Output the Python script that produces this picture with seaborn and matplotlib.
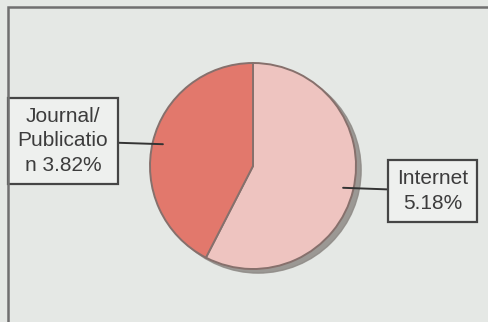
import numpy as np
import matplotlib
matplotlib.use("Agg")
import matplotlib.pyplot as plt
import matplotlib.patches as mpatches
import seaborn as sns

# Data
categories = ["Internet", "Journal/\nPublicatio\nn"]
values = [5.18, 3.82]
value_labels = ["5.18%", "3.82%"]

sns.set_theme(style="white")
plt.rcParams["font.family"] = ["Liberation Sans", "DejaVu Sans"]

colors = ["#eec4c0", "#e2786c"]
edge = "#86706c"
bg = "#e5e8e5"

W, H = 488, 322
fig = plt.figure(figsize=(W / 100, H / 100), dpi=100, facecolor=bg)

# outer frame
frame = mpatches.Rectangle((8 / W, -0.1), 1.2, 1 - 7 / H + 0.1, transform=fig.transFigure,
                           fill=False, edgecolor="#707070", lw=1.8)
fig.patches.append(frame)

cx, cy, r = 253, 166, 103
ax = fig.add_axes([(cx - r) / W, (H - cy - r) / H, 2 * r / W, 2 * r / H])

# shadow
shadow = mpatches.Circle((0.05, -0.04), 1.0, color="#8e8a86", zorder=0, clip_on=False, alpha=0.85)
ax.add_patch(shadow)

wedges, _ = ax.pie(values, colors=colors, startangle=90, counterclock=False, radius=1.0,
                   wedgeprops=dict(edgecolor=edge, linewidth=1.4))
for w in wedges:
    w.set_clip_on(False)
    w.set_zorder(2)
ax.set_xlim(-1, 1)
ax.set_ylim(-1, 1)
ax.axis("off")

box = dict(boxstyle="square,pad=0.45", facecolor="#eef0ee", edgecolor="#454545", lw=1.6)
text_pos = [(432.5 / W, 1 - 191 / H), (63 / W, 1 - 141 / H)]
for w, cat, lab, pos in zip(wedges, categories, value_labels, text_pos):
    ang = np.deg2rad((w.theta1 + w.theta2) / 2)
    xy = (0.9 * np.cos(ang), 0.9 * np.sin(ang))
    txt = f"{cat} {lab}" if cat.endswith("\nn") else f"{cat}\n{lab}"
    ax.annotate(txt, xy=xy, xycoords="data", xytext=pos, textcoords="figure fraction",
                ha="center", va="center", fontsize=15, color="#3c3c3c", linespacing=1.35,
                bbox=box, zorder=5,
                arrowprops=dict(arrowstyle="-", color="#333333", lw=1.4, shrinkA=0, shrinkB=0))

fig.savefig("out.png", dpi=100, facecolor=bg)
